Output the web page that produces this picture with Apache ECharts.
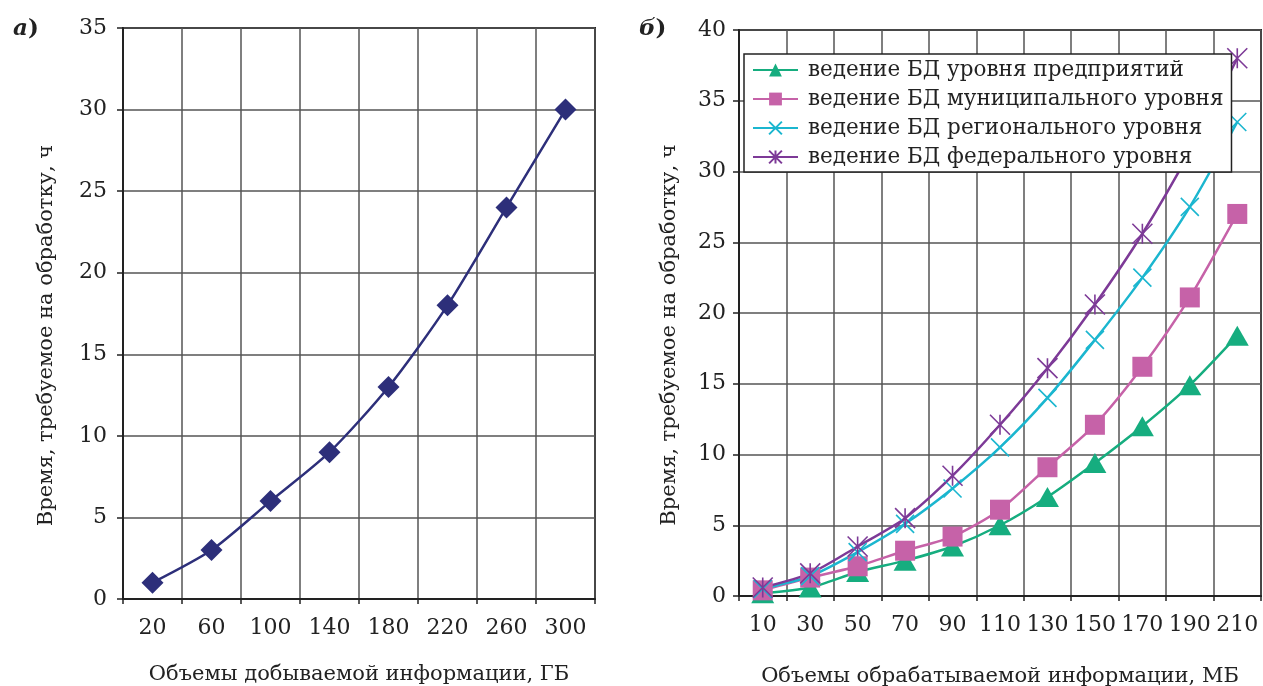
<!DOCTYPE html>
<html>
<head>
<meta charset="utf-8">
<script src="https://cdn.jsdelivr.net/npm/echarts@6/dist/echarts.min.js"></script>
<style>
  html, body { margin: 0; padding: 0; background: #fff; }
  #chart { width: 1263px; height: 686px; }
</style>
</head>
<body>
<div id="chart"></div>
<script>
// левый график: объемы добываемой информации
const gbCategories = ['20', '60', '100', '140', '180', '220', '260', '300'];
const gbHours = [1, 3, 6, 9, 13, 18, 24, 30];

// правый график: объемы обрабатываемой информации
const mbCategories = ['10', '30', '50', '70', '90', '110', '130', '150', '170', '190', '210'];
const enterpriseHours = [0.2, 0.6, 1.7, 2.5, 3.5, 5, 7, 9.4, 12, 14.9, 18.4];
const municipalHours = [0.4, 1.3, 2.1, 3.2, 4.2, 6.1, 9.1, 12.1, 16.2, 21.1, 27];
const regionalHours = [0.5, 1.4, 3.1, 5.1, 7.6, 10.5, 14, 18.1, 22.5, 27.5, 33.5];
const federalHours = [0.6, 1.6, 3.5, 5.5, 8.5, 12.1, 16.1, 20.6, 25.6, 31.4, 38];

const seriesNames = [
  'ведение БД уровня предприятий',
  'ведение БД муниципального уровня',
  'ведение БД регионального уровня',
  'ведение БД федерального уровня'
];

const FONT = 'DejaVu Serif';
const INK = '#222';
const GRID_LINE = '#555';

const crossPath = 'path://M0,0L10,10M10,0L0,10';
const starPath = 'path://M0,0L10,10M10,0L0,10M5,0L5,10';

function xAxisFor(gridIndex, data, name, nameGap, labelMargin) {
  return {
    type: 'category',
    gridIndex: gridIndex,
    data: data,
    boundaryGap: true,
    name: name,
    nameLocation: 'middle',
    nameGap: nameGap,
    nameMoveOverlap: false,
    nameTextStyle: { fontFamily: FONT, fontSize: 21, color: INK },
    axisLine: { show: true, lineStyle: { color: INK, width: 2 } },
    axisTick: { show: true, length: 5, lineStyle: { color: INK, width: 1.5 } },
    axisLabel: { fontFamily: FONT, fontSize: 22, color: INK, margin: labelMargin, interval: 0 },
    splitLine: { show: true, lineStyle: { color: GRID_LINE, width: 1.5 } }
  };
}

function yAxisFor(gridIndex, max, nameGap, labelMargin) {
  return {
    type: 'value',
    gridIndex: gridIndex,
    min: 0,
    max: max,
    interval: 5,
    name: 'Время, требуемое на обработку, ч',
    nameLocation: 'middle',
    nameGap: nameGap,
    nameMoveOverlap: false,
    nameTextStyle: { fontFamily: FONT, fontSize: 21, color: INK, padding: [0, 44, 0, 0] },
    axisLine: { show: true, lineStyle: { color: INK, width: 2 } },
    axisTick: { show: true, length: 6, lineStyle: { color: INK, width: 1.5 } },
    axisLabel: { fontFamily: FONT, fontSize: 22, color: INK, margin: labelMargin },
    splitLine: { show: true, lineStyle: { color: GRID_LINE, width: 1.5 } }
  };
}

function rightSeries(name, data, color, symbol, size, hollow) {
  return {
    name: name,
    type: 'line',
    xAxisIndex: 1,
    yAxisIndex: 1,
    data: data,
    smooth: 0.25,
    symbol: symbol,
    symbolSize: size,
    showAllSymbol: true,
    lineStyle: { color: color, width: 2.5 },
    itemStyle: hollow
      ? { color: 'rgba(0,0,0,0)', borderColor: color, borderWidth: 1.6 }
      : { color: color, borderWidth: 0 }
  };
}

const chart = echarts.init(document.getElementById('chart'));

const titleStyle = {
  fontFamily: FONT, fontSize: 23, fontWeight: 'bold', color: INK,
  rich: { i: { fontFamily: FONT, fontSize: 23, fontStyle: 'italic', fontWeight: 'bold', color: INK } }
};

const option = {
  backgroundColor: '#fff',
  animation: false,
  title: [
    { text: '{i|а})', left: 8, top: 13, textStyle: titleStyle },
    { text: '{i|б})', left: 634, top: 13, textStyle: titleStyle }
  ],
  grid: [
    { left: 123, right: 668, top: 28, bottom: 87, show: true, borderColor: INK, borderWidth: 2,
      containLabel: false, outerBoundsMode: 'none' },
    { left: 739, right: 2, top: 30, bottom: 90, show: true, borderColor: INK, borderWidth: 2,
      containLabel: false, outerBoundsMode: 'none' }
  ],
  legend: {
    data: seriesNames,
    orient: 'vertical',
    left: 744,
    top: 54,
    backgroundColor: '#fff',
    borderColor: INK,
    borderWidth: 1.5,
    borderRadius: 0,
    padding: [5, 8, 4, 8],
    itemWidth: 45,
    itemHeight: 16,
    itemGap: 7,
    textStyle: { fontFamily: FONT, fontSize: 21.5, color: INK, padding: [0, 0, 0, 5] }
  },
  xAxis: [
    xAxisFor(0, gbCategories, 'Объемы добываемой информации, ГБ', 65, 18),
    xAxisFor(1, mbCategories, 'Объемы обрабатываемой информации, МБ', 70, 18)
  ],
  yAxis: [
    yAxisFor(0, 35, 66, 16),
    yAxisFor(1, 40, 59, 13)
  ],
  series: [
    {
      name: 'ГБ',
      type: 'line',
      xAxisIndex: 0,
      yAxisIndex: 0,
      data: gbHours,
      smooth: 0.25,
      symbol: 'diamond',
      symbolSize: 22,
      lineStyle: { color: '#2d2f7a', width: 2.5 },
      itemStyle: { color: '#2d2f7a' }
    },
    rightSeries(seriesNames[0], enterpriseHours, '#16ad7f', 'triangle', [23, 20], false),
    rightSeries(seriesNames[1], municipalHours, '#c662a8', 'rect', 20, false),
    rightSeries(seriesNames[2], regionalHours, '#1bb6cf', crossPath, 18, true),
    rightSeries(seriesNames[3], federalHours, '#7d3a97', starPath, 20, true)
  ]
};

chart.setOption(option);
</script>
</body>
</html>
